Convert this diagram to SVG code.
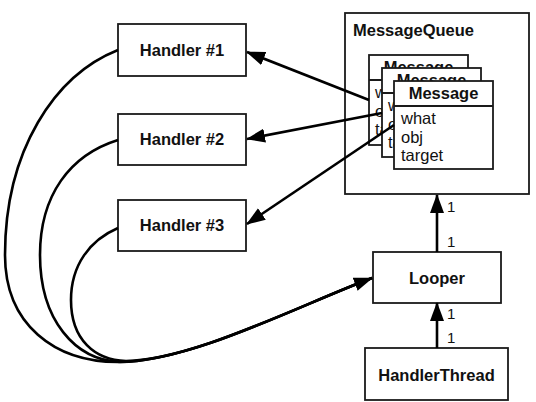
<svg xmlns="http://www.w3.org/2000/svg" width="536" height="402" viewBox="0 0 536 402">
  <style>
    .box { fill: #fff; stroke: #1a1a1a; stroke-width: 1.8; }
    .t { font-family: "Liberation Sans", Arial, sans-serif; font-size: 16.5px; fill: #111; }
    .b { font-weight: bold; }
    .mid { text-anchor: middle; }
    .edge { fill: none; stroke: #000; stroke-width: 2.6; }
    .card { font-family: "Liberation Sans", Arial, sans-serif; font-size: 15px; fill: #111; }
  </style>
  <defs>
    <marker id="arrow" markerUnits="userSpaceOnUse" markerWidth="20" markerHeight="14" refX="18" refY="7" orient="auto">
      <path d="M0,0 L19,7 L0,14 z" fill="#000"/>
    </marker>
  </defs>

  <rect width="536" height="402" fill="#fff"/>

  <!-- message queue with stacked messages -->
  <g id="messagequeue">
    <rect class="box" x="345" y="13" width="184" height="181"/>
    <text class="t b" x="353" y="35.5">MessageQueue</text>
  </g>
  <g id="message-1">
    <rect class="box" x="369" y="55" width="99" height="90"/>
    <line class="box" x1="369" y1="80" x2="468" y2="80"/>
    <text class="t b mid" x="418.5" y="73">Message</text>
    <text class="t" x="375" y="98">what</text>
    <text class="t" x="375" y="116.5">obj</text>
    <text class="t" x="375" y="135">target</text>
  </g>
  <g id="message-2">
    <rect class="box" x="382" y="68" width="99" height="89"/>
    <line class="box" x1="382" y1="93" x2="481" y2="93"/>
    <text class="t b mid" x="431.5" y="86">Message</text>
    <text class="t" x="388" y="111">what</text>
    <text class="t" x="388" y="129.5">obj</text>
    <text class="t" x="388" y="148">target</text>
  </g>
  <g id="message-3">
    <rect class="box" x="394" y="81" width="99" height="88"/>
    <line class="box" x1="394" y1="106" x2="493" y2="106"/>
    <text class="t b mid" x="443.5" y="99">Message</text>
    <text class="t" x="401" y="124">what</text>
    <text class="t" x="401" y="142.5">obj</text>
    <text class="t" x="401" y="161">target</text>
  </g>

  <!-- handlers -->
  <g id="handler-1">
    <rect class="box" x="118" y="24" width="128" height="52"/>
    <text class="t b mid" x="182" y="55.5">Handler #1</text>
  </g>
  <g id="handler-2">
    <rect class="box" x="118" y="114" width="128" height="51"/>
    <text class="t b mid" x="182" y="145">Handler #2</text>
  </g>
  <g id="handler-3">
    <rect class="box" x="118" y="200" width="128" height="51"/>
    <text class="t b mid" x="182" y="231">Handler #3</text>
  </g>

  <!-- looper and thread -->
  <g id="looper">
    <rect class="box" x="373" y="252" width="128" height="51"/>
    <text class="t b mid" x="437" y="283.5">Looper</text>
  </g>
  <g id="handlerthread">
    <rect class="box" x="365" y="348" width="143" height="52"/>
    <text class="t b mid" x="436.5" y="380.5">HandlerThread</text>
  </g>

  <!-- connectors -->
  <g id="connectors">
    <path class="edge" d="M369,100 L247,52" marker-end="url(#arrow)"/>
    <path class="edge" d="M382,113 L247,139" marker-end="url(#arrow)"/>
    <path class="edge" d="M394,125 L247,224" marker-end="url(#arrow)"/>

    <path class="edge" d="M118,50 C55,75 5,150 5,255 C5,325 55,362 118,362 C190,362 300,305 372,278"/>
    <path class="edge" d="M118,140 C70,155 40,195 40,255 C40,320 75,360 120,362 C190,362 300,305 372,278"/>
    <path class="edge" d="M118,228 C90,240 71,265 71,300 C71,340 95,360 126,361 C195,360 300,305 372,278" marker-end="url(#arrow)"/>

    <path class="edge" d="M437,252 L437,195" marker-end="url(#arrow)"/>
    <path class="edge" d="M437,348 L437,303" marker-end="url(#arrow)"/>

    <text class="card" x="447" y="212">1</text>
    <text class="card" x="447" y="247">1</text>
    <text class="card" x="447" y="319">1</text>
    <text class="card" x="447" y="343">1</text>
  </g>
</svg>
